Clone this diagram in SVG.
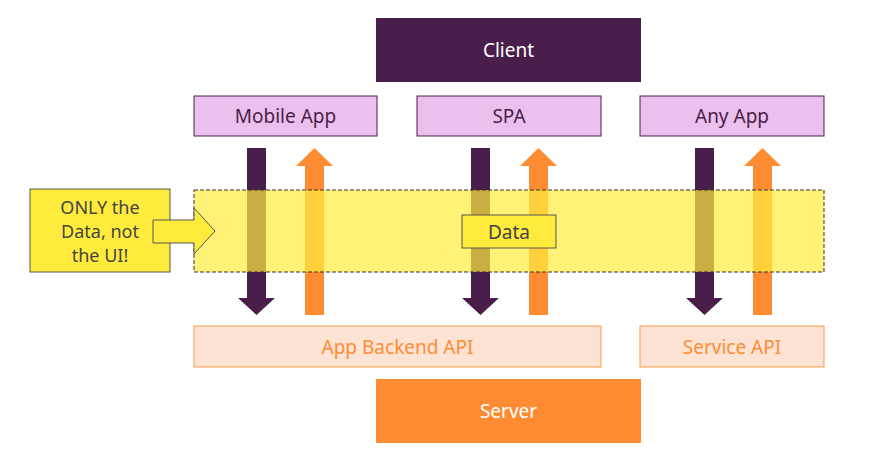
<svg xmlns="http://www.w3.org/2000/svg" width="880" height="450" viewBox="0 0 880 450">
<style>
text{font-family:"Noto Sans","Liberation Sans",sans-serif;text-anchor:middle;dominant-baseline:central}
.cl{fill:#ecc0ec;stroke:#4a1e4a;stroke-width:1}
.api{fill:#fde3d3;stroke:#ff9a4a;stroke-width:1}
.ct{fill:#4a1e4a;font-size:19px}
.at{fill:#ff8c33;font-size:19px}
.dn{fill:#4a1e4a}
.up{fill:#ff8c33}
</style>
<rect width="880" height="450" fill="#fff"/>
<g id="client"><rect x="376" y="18" width="265" height="64" fill="#4a1e4a"/><text x="508.5" y="50" fill="#fff" font-size="19">Client</text></g>
<g id="mobile"><rect class="cl" x="194" y="96" width="183" height="40"/><text class="ct" x="285.5" y="116">Mobile App</text></g>
<g id="spa"><rect class="cl" x="417" y="96" width="184" height="40"/><text class="ct" x="509" y="116">SPA</text></g>
<g id="anyapp"><rect class="cl" x="640" y="96" width="184" height="40"/><text class="ct" x="732" y="116">Any App</text></g>
<g id="connectors">
<polygon class="dn" points="247,148 266,148 266,298 275,298 256.5,315 238,298 247,298"/>
<polygon class="up" points="305,315 324,315 324,166 333,166 314.5,148 296,166 305,166"/>
<polygon class="dn" points="471,148 490,148 490,298 499,298 480.5,315 462,298 471,298"/>
<polygon class="up" points="529,315 548,315 548,166 557,166 538.5,148 520,166 529,166"/>
<polygon class="dn" points="695,148 714,148 714,298 723,298 704.5,315 686,298 695,298"/>
<polygon class="up" points="753,315 772,315 772,166 781,166 762.5,148 744,166 753,166"/>
</g>
<g id="band"><rect x="194" y="190" width="630" height="82" fill="#ffec3d" fill-opacity="0.7" stroke="#333" stroke-width="1" stroke-dasharray="4,2"/></g>
<g id="data"><rect x="462" y="215" width="94" height="33" fill="#ffeb3b" stroke="#555" stroke-width="1"/><text x="509" y="232" fill="#444" font-size="19">Data</text></g>
<g id="callout">
<rect x="30" y="189" width="140" height="83" fill="#ffeb3b" stroke="#555" stroke-width="1"/>
<polygon points="153,220 194,220 194,208 215,231 194,254 194,243 153,243" fill="#ffeb3b" stroke="#555" stroke-width="1"/>
<text fill="#444" font-size="18"><tspan x="100" y="207">ONLY the</tspan><tspan x="100" y="231">Data, not</tspan><tspan x="100" y="255">the UI!</tspan></text>
</g>
<g id="backend"><rect class="api" x="194" y="326" width="407" height="41"/><text class="at" x="397.5" y="347">App Backend API</text></g>
<g id="service"><rect class="api" x="640" y="326" width="184" height="41"/><text class="at" x="732" y="347">Service API</text></g>
<g id="server"><rect x="376" y="379" width="265" height="64" fill="#ff8c33"/><text x="508.5" y="411" fill="#fff" font-size="19">Server</text></g>
</svg>
